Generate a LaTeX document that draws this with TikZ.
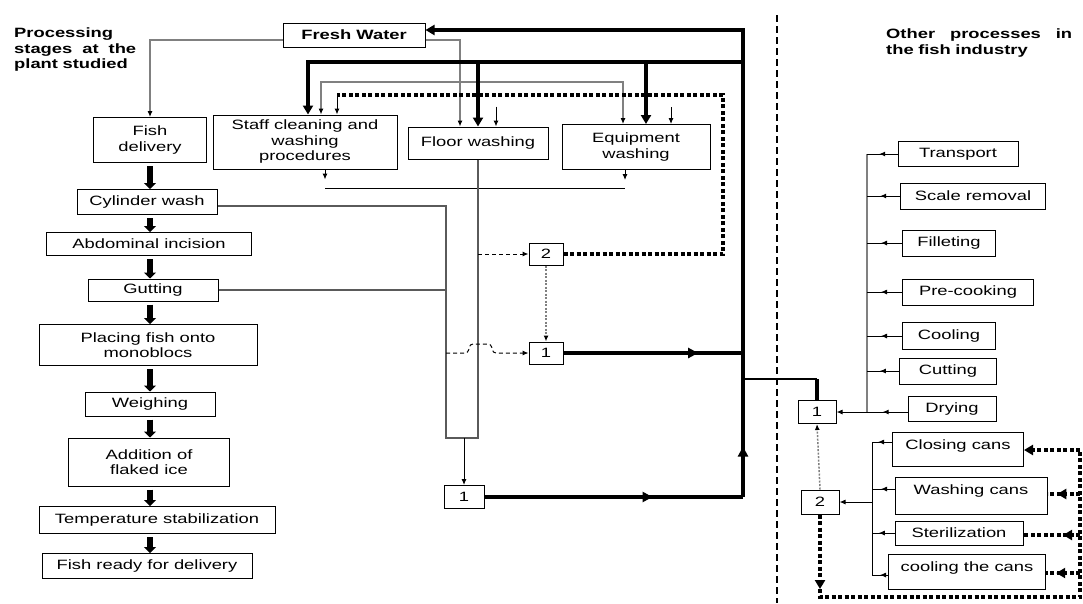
\documentclass[tikz,border=0pt]{standalone}
\usepackage{fontspec}
\setmainfont{Liberation Sans}[FakeStretch=1.36]
\usetikzlibrary{arrows.meta, decorations.markings}
\definecolor{linegray}{RGB}{128,128,128}
\definecolor{pipegray}{RGB}{90,90,90}

\begin{document}
\begin{tikzpicture}[
        x=1pt, y=-1pt,
        font=\fontsize{13.5}{15.5}\selectfont,
        box/.style={rectangle, draw, line width=1pt, align=center, inner sep=1pt},
        numbox/.style={box, minimum width=34, minimum height=22},
        canbox/.style={box, inner ysep=0pt, text height=17pt, text depth=17pt},
        headline/.style={font=\fontsize{13.5}{15.5}\selectfont\bfseries, align=left, inner sep=0pt, anchor=north west},
        stagearrow/.style={line width=6.5pt, -{Triangle[width=12pt,length=6pt]}},
        thinline/.style={line width=1pt},
        thinarrow/.style={thinline, -{Latex[length=6pt,width=5pt]}},
        grayline/.style={line width=1.1pt, draw=linegray},
        pipeline/.style={line width=1.1pt, draw=pipegray},
        heavy/.style={line width=3.5pt},
        heavyarrow/.style={heavy, -{Triangle[width=10pt,length=9pt]}},
        recycle/.style={line width=3.2pt, dash pattern=on 4pt off 2.5pt},
        recyclearrow/.style={recycle, -{Triangle[width=10pt,length=9pt]}},
        wastedash/.style={line width=1pt, dash pattern=on 4pt off 3pt, -{Latex[length=6pt,width=5pt]}},
        returndot/.style={line width=1.5pt, draw=linegray, dash pattern=on 2pt off 1.5pt, -{Latex[length=6pt,width=5pt,color=black]}},
        divider/.style={line width=2.2pt, dash pattern=on 7pt off 4pt},
        midarrow/.style={postaction={decorate}, decoration={markings, mark=at position #1 with {\arrow{Latex[length=6pt,width=5pt]}}}},
        heavymid/.style={postaction={decorate}, decoration={markings, mark=at position #1 with {\arrow{Triangle[width=10pt,length=10pt]}}}},
        recmid/.style={postaction={decorate}, decoration={markings, mark=at position #1 with {\arrow{Triangle[width=10pt,length=9pt]}}}}
    ]
    \useasboundingbox (0,0) rectangle (1083,603);

    % headings
    \node[headline, text width=122] (platitle) at (14,28) {Processing\\stages\hfill at\hfill the\\plant studied};
    \node[headline, text width=186] (othertitle) at (886,29) {Other\hfill processes\hfill in\\the fish industry};

    % processing stages
    \node[box, minimum width=142, minimum height=24, font=\fontsize{13.5}{15.5}\selectfont\bfseries] (fresh) at (354,35) {Fresh Water};
    \node[box, minimum width=113, minimum height=45] (delivery) at (150,140) {Fish\\delivery};
    \node[box, minimum width=140, minimum height=25] (cylinder) at (147,202) {Cylinder wash};
    \node[box, minimum width=205, minimum height=23] (incision) at (149,244) {Abdominal incision};
    \node[box, minimum width=130, minimum height=22] (gutting) at (153,290) {Gutting};
    \node[box, minimum width=218, minimum height=41] (placing) at (148,345) {Placing fish onto\\monoblocs};
    \node[box, minimum width=130, minimum height=24] (weighing) at (150,404) {Weighing};
    \node[box, minimum width=161, minimum height=48] (ice) at (149,462) {Addition of\\flaked ice};
    \node[box, minimum width=236, minimum height=27] (temp) at (157,520) {Temperature stabilization};
    \node[box, minimum width=210, minimum height=25] (ready) at (147,566) {Fish ready for delivery};

    \foreach \a/\b in {delivery/cylinder, cylinder/incision, incision/gutting, gutting/placing, placing/weighing, weighing/ice, ice/temp, temp/ready}
        \draw[stagearrow] (\a.south -| 150,0) ++(0,3) -- (\b.north -| 150,0);

    % washing
    \node[box, minimum width=184, minimum height=54] (staff) at (305,142) {Staff cleaning and\\washing\\procedures};
    \node[box, minimum width=140, minimum height=32] (floor) at (478,143) {Floor washing};
    \node[box, minimum width=148, minimum height=45] (equip) at (636,147) {Equipment\\washing};

    \node[numbox] (box2) at (546,254) {2};
    \node[numbox] (box1a) at (546,353) {1};
    \node[box, minimum width=40, minimum height=23] (box1b) at (464,497) {1};

    \coordinate (main) at (743,0);
    \coordinate (jtop) at (743,30);
    \coordinate (jwater) at (743,62);
    \coordinate (jright) at (743,379);
    \coordinate (rtop) at (723,95);
    \coordinate (rleft) at (337,95);
    \coordinate (pipeL) at (446,0);
    \coordinate (pipeR) at (478,0);

    % fresh water supply
    \draw[grayline, -{Latex[length=6pt,width=5pt,color=black]}] (fresh.west |- 0,40) -| (delivery.north);
    \draw[grayline, -{Latex[length=6pt,width=5pt,color=black]}] (fresh.east |- 0,40) -| (460,0 |- floor.north);
    \draw[grayline, {Latex[length=6pt,width=5pt,color=black]}-{Latex[length=6pt,width=5pt,color=black]}] (staff.north -| 321,0) |- (623,82) -- (623,0 |- equip.north);
    \draw[heavyarrow] (jwater) -| (308,0 |- staff.north);
    \draw[heavyarrow] (floor.north |- jwater) -- (floor.north);
    \draw[heavyarrow] (646,0 |- jwater) -- (646,0 |- equip.north);

    % recycled water
    \draw[recycle] (box2.east) -| (rtop) -- (rleft);
    \draw[thinarrow] (rleft) -- (rleft |- staff.north);
    \draw[thinarrow] (496,0 |- floor.north) ++(0,-20) -- (496,0 |- floor.north);
    \draw[thinarrow] (671,0 |- equip.north) ++(0,-17) -- (671,0 |- equip.north);

    % waste water
    \draw[thinarrow] (staff.south -| 325,0) -- ++(0,10);
    \draw[thinarrow] (equip.south -| 625,0) -- ++(0,10);
    \draw[thinline] (325,188) -- (625,188);
    \draw[pipeline] (floor.south) -- (pipeR |- 0,438) -- (pipeL |- 0,438) -- (pipeL |- 0,206) -- (cylinder.east |- 0,206);
    \draw[pipeline] (gutting.east) -- (pipeL |- gutting.east);
    \draw[thinarrow] (box1b.north |- 0,438) -- (box1b.north);
    \draw[wastedash] (pipeR |- box2.west) -- (box2.west);
    \draw[wastedash, rounded corners=3pt] (pipeL |- box1a.west) -- (468,353) -- (470,344) -- (491,344) -- (493,353) -- (box1a.west);
    \draw[returndot] (box2.south) -- (box1a.north);

    % main return line
    \draw[heavy, heavymid=0.65] (box1b.east) -- (main |- box1b.east);
    \draw[heavy, heavymid=0.35] (main |- box1b.east) -- (main |- box1a.east);
    \draw[heavy, heavymid=0.75] (box1a.east) -- (main |- box1a.east);
    \draw[heavyarrow] (main |- box1a.east) -- (jtop) -- (fresh.east |- jtop);

    % other processes
    \draw[divider] (777,15) -- (777,603);

    \node[box, minimum width=120, minimum height=25] (transport) at (958,154) {Transport};
    \node[box, minimum width=145, minimum height=26] (scale) at (973,196) {Scale removal};
    \node[box, minimum width=93, minimum height=26] (fillet) at (949,243) {Filleting};
    \node[box, minimum width=131, minimum height=26] (precook) at (968,292) {Pre-cooking};
    \node[box, minimum width=93, minimum height=27] (cooling) at (949,336) {Cooling};
    \node[box, minimum width=97, minimum height=26] (cutting) at (948,371) {Cutting};
    \node[box, minimum width=88, minimum height=25] (drying) at (952,409) {Drying};
    \node[box, minimum width=38, minimum height=23] (box1r) at (817,412) {1};
    \node[box, minimum width=38, minimum height=24] (box2r) at (820,502) {2};

    \node[canbox, minimum width=131] (closing) at (958,449) {Closing cans};
    \node[canbox, minimum width=152, text depth=20pt] (washcans) at (971,495.5) {Washing cans};
    \node[box, minimum width=128, minimum height=24] (steril) at (959,533) {Sterilization};
    \node[canbox, minimum width=157, text depth=18pt] (coolcans) at (967,571.5) {cooling the cans};

    \draw[line width=1.6pt] (jright) -- (box1r.north |- jright);
    \draw[heavy] (box1r.north |- jright) -- (box1r.north);

    \draw[grayline] (transport.west -| 867,0) -- (box1r.east -| 867,0);
    \foreach \n in {transport, scale, fillet, precook, cooling, cutting}
        \draw[thinline, midarrow=0.6] (\n.west) -- (\n.west -| 867,0);
    \draw[thinarrow, midarrow=0.35] (drying.west |- box1r.east) -- (box1r.east);

    \coordinate (cantop) at (872,442);
    \coordinate (canbot) at (872,575);
    \draw[thinline] (cantop) -- (canbot);
    \draw[thinline, midarrow=0.7] (closing.west |- cantop) -- (cantop);
    \draw[thinline, midarrow=0.6] (washcans.west |- 0,489) -- (cantop |- 0,489);
    \draw[thinline, midarrow=0.7] (steril.west) -- (cantop |- steril.west);
    \draw[thinline, midarrow=0.5] (coolcans.west |- canbot) -- (canbot);
    \draw[thinarrow] (cantop |- box2r.east) -- (box2r.east);

    \draw[returndot] (box2r.north) -- (box1r.south);
    \draw[recyclearrow] (box2r.south) -- (box2r.south |- 0,589);
    \draw[recycle] (box2r.south |- 0,589) -- (box2r.south |- 0,597) -| (1080,450);
    \draw[recyclearrow] (1080,450) -- (closing.east |- 0,450);
    \draw[recycle, recmid=0.7] (1080,494) -- (washcans.east |- 0,494);
    \draw[recycle, recmid=0.3] (1080,535) -- (steril.east |- 0,535);
    \draw[recycle, recmid=0.7] (1080,573) -- (coolcans.east |- 0,573);
\end{tikzpicture}
\end{document}
